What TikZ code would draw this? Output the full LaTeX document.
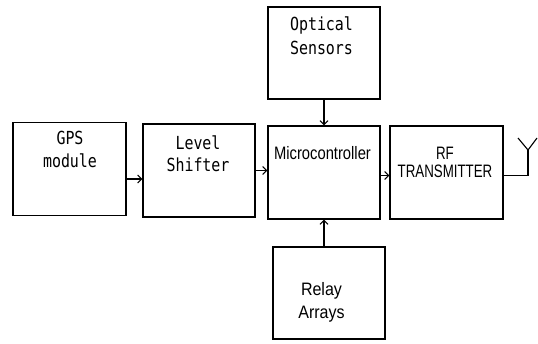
\documentclass[tikz,border=0pt]{standalone}
\usepackage{fontspec}
\setmainfont{Liberation Sans}
\newfontfamily\fixfont[FakeStretch=0.83]{DejaVu Sans Mono}
\newfontfamily\narrowfont[FakeStretch=0.82]{Liberation Sans}
\newfontfamily\narrowerfont[FakeStretch=0.74]{Liberation Sans}
\newfontfamily\relayfont[FakeStretch=0.89]{Liberation Sans}
\usetikzlibrary{arrows.meta}

\def\ux{1pt}
\def\uy{-1pt}

\begin{document}
\begin{tikzpicture}[x=\ux,y=\uy, line width=1.1pt]
		\tikzset{
			block/.style={draw, rectangle, minimum width=#1, minimum height=93pt, inner sep=0pt},
			mono/.style={font=\fixfont\fontsize{18}{23}\selectfont, align=center, inner sep=0pt},
			plain/.style={font=\narrowfont\fontsize{18}{23}\selectfont, align=center, inner sep=0pt},
			sig/.style={-{Straight Barb[length=4pt,width=8pt]}},
		}
		\useasboundingbox (0,0) rectangle (538,343);

		% blocks
		\node[block=113pt] (gps) at (69.5,169) {};
		\node[block=112pt] (shifter) at (199,170.5) {};
		\node[block=112pt] (mcu) at (324,172.5) {};
		\node[block=112pt, minimum height=92pt] (optical) at (324,53) {};
		\node[block=113pt] (rf) at (446.5,172.5) {};
		\node[block=112pt, minimum height=92pt] (relay) at (329,293) {};

		% texts
		\node[mono] (gpstext) at (70,149.5) {GPS\\module};
		\node[mono, font=\fixfont\fontsize{18}{22}\selectfont] (shiftertext) at (198,153.5) {Level\\Shifter};
		\node[mono, font=\fixfont\fontsize{18}{24}\selectfont] (opticaltext) at (321.5,36) {Optical\\Sensors};
		\node[plain] (mcutext) at (322.5,153.5) {Microcontroller};
		\node[plain, font=\narrowerfont\fontsize{18}{18}\selectfont] (rftext) at (445,162.5) {RF\\TRANSMITTER};
		\node[plain, font=\relayfont\fontsize{18}{23}\selectfont] (relaytext) at (321.5,302) {Relay\\Arrays};

		% signals
		\draw[sig] ([yshift=-10pt]gps.east) -- ([yshift=-10pt]gps.east -| shifter.west);
		\draw[sig] (shifter.east) -- (shifter.east -| mcu.west);
		\draw[sig] ([yshift=-3pt]mcu.east) -- ([yshift=-3pt]mcu.east -| rf.west);
		\draw[sig] (optical.south) -- (mcu.north);
		\draw[sig] (relay.north -| mcu.south) -- (mcu.south);

		% antenna
		\coordinate (ant) at (528,150);
		\draw ([yshift=-3pt]rf.east) -- ([yshift=-3pt]rf.east -| ant) -- (ant);
		\draw (518,138) -- (ant) -- (537,138);
\end{tikzpicture}
\end{document}
